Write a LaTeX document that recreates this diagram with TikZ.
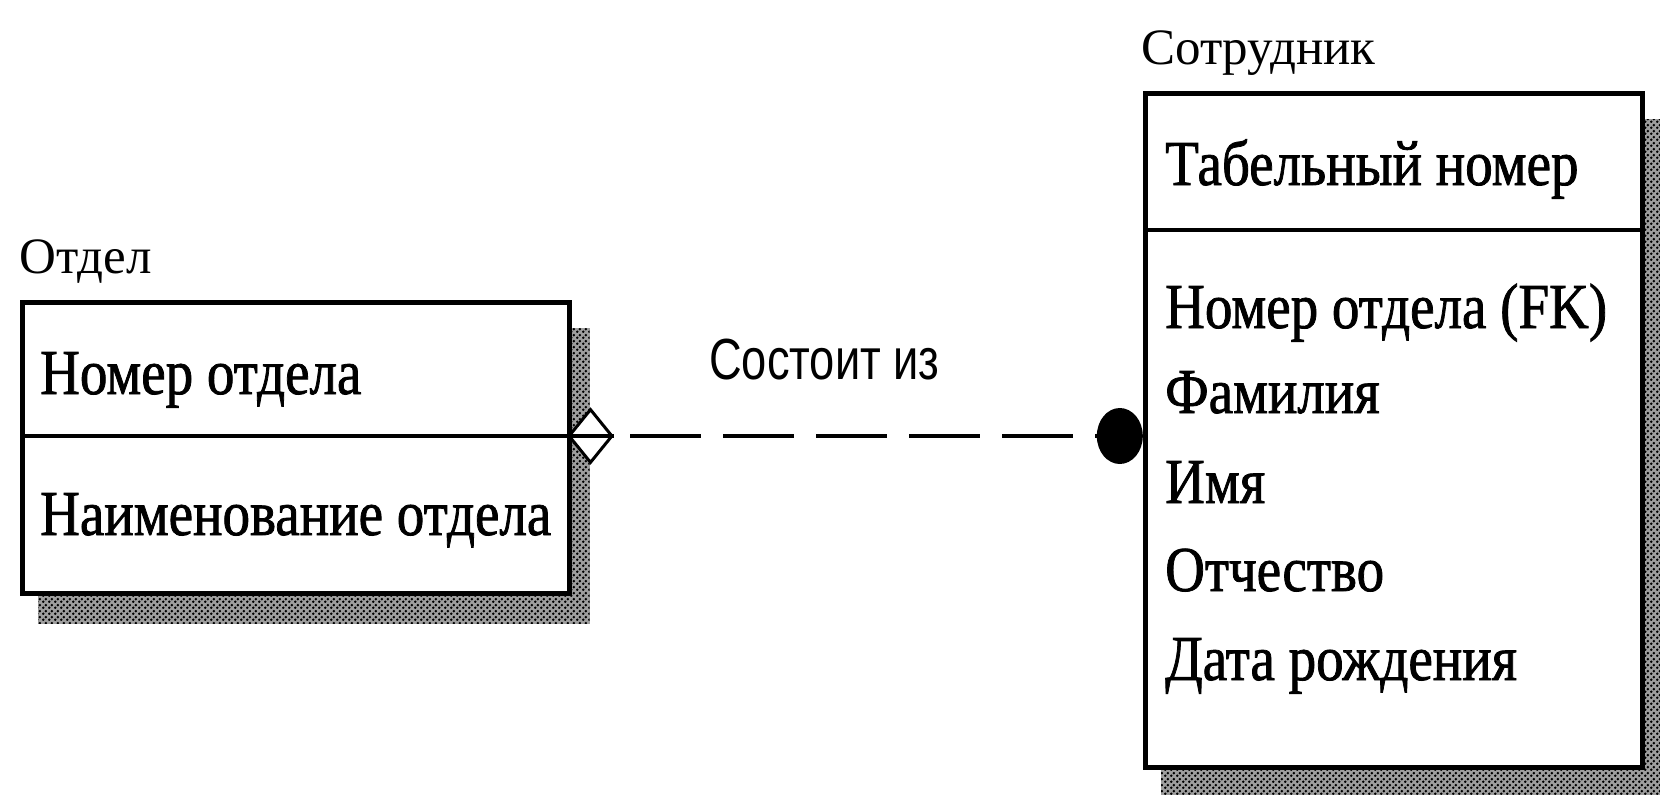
\documentclass[tikz,border=0pt]{standalone}
\usepackage{fontspec}
\usetikzlibrary{shapes.geometric,patterns,backgrounds}

\newfontfamily\rowfont[FakeStretch=0.86,FakeBold=1.2]{Liberation Serif}
\newfontfamily\capfont{Liberation Serif}
\newfontfamily\relfont[FakeStretch=0.78]{Liberation Sans}

% dithered shadow fill
\pgfdeclarepatternformonly{ditherdots}{\pgfqpoint{0pt}{0pt}}{\pgfqpoint{6pt}{6pt}}{\pgfqpoint{6pt}{6pt}}{%
  \pgfpathcircle{\pgfqpoint{1.5pt}{1.5pt}}{1.6pt}%
  \pgfpathcircle{\pgfqpoint{4.5pt}{4.5pt}}{1.6pt}%
  \pgfusepath{fill}}

\tikzset{
  entbox/.style={draw, line width=4.5pt, fill=white, inner sep=0pt, anchor=north west},
  divider/.style={line width=4.5pt},
  shadowbase/.style={fill=black!38},
  shadowfill/.style={pattern=ditherdots, pattern color=black},
  rowtext/.style={anchor=base west, inner sep=0pt, font=\rowfont\fontsize{64}{70}\selectfont},
  captext/.style={anchor=base west, inner sep=0pt, font=\capfont\fontsize{51}{56}\selectfont},
  reltext/.style={anchor=base west, inner sep=0pt, font=\relfont\fontsize{58}{64}\selectfont},
  aggmark/.style={diamond, draw, line width=3pt, fill=white, inner sep=0pt,
    minimum width=44pt, minimum height=54pt, anchor=west},
  manymark/.style={ellipse, fill=black, inner sep=0pt,
    minimum width=46pt, minimum height=56pt, anchor=east},
  reldash/.style={line width=4pt, dash pattern=on 71pt off 22pt, dash phase=77pt}
}

\begin{document}
\begin{tikzpicture}[x=1pt,y=-1pt]
\useasboundingbox (0,0) rectangle (1660,795);

% entity boxes
\node[entbox, minimum width=547pt, minimum height=291pt] (dept) at (20,300) {};
\node[entbox, minimum width=497pt, minimum height=674pt] (emp) at (1143,91) {};

% shadows and page background
\begin{scope}[on background layer]
  \fill[white] (0,0) rectangle (1660,795);
  \foreach \b in {dept,emp}{
    \fill[shadowbase] ([shift={(18,28)}]\b.north west) rectangle ([shift={(18,28)}]\b.south east);
    \fill[shadowfill] ([shift={(18,28)}]\b.north west) rectangle ([shift={(18,28)}]\b.south east);
  }
\end{scope}

% key / non-key separators
\coordinate (deptKeyW) at (20,436);
\coordinate (linkL) at (567,436);
\coordinate (empKeyW) at (1143,230);
\coordinate (empKeyE) at (1640,230);
\coordinate (linkR) at (1143,436);
\draw[divider] (empKeyW) -- (empKeyE);

% relationship ends
\node[aggmark] (agg) at (linkL) {};
\draw[divider] (deptKeyW) -- (agg.east);
\node[manymark] (dot) at (linkR) {};
\draw[reldash] (agg.east) -- (dot.west);

% entity names
\node[captext] (deptName) at (19,273) {Отдел};
\node[captext] (empName) at (1141,64) {Сотрудник};

% attributes of Отдел
\node[rowtext] (d1) at (40,394) {Номер отдела};
\node[rowtext] (d2) at (40,535) {Наименование отдела};

% attributes of Сотрудник
\node[rowtext] (e1) at (1165,185) {Табельный номер};
\node[rowtext] (e2) at (1165,328) {Номер отдела (FK)};
\node[rowtext] (e3) at (1165,413) {Фамилия};
\node[rowtext] (e4) at (1165,503) {Имя};
\node[rowtext] (e5) at (1165,591) {Отчество};
\node[rowtext] (e6) at (1165,680) {Дата рождения};

% relationship name
\node[reltext] (rel) at (709,379) {Состоит из};
\end{tikzpicture}
\end{document}
